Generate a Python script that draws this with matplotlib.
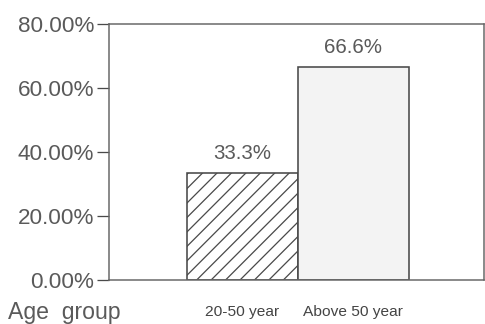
import matplotlib
matplotlib.use("Agg")
import matplotlib.pyplot as plt

categories = ["20-50 year", "Above 50 year"]
values = [33.3, 66.6]
value_labels = ["33.3%", "66.6%"]
yticks = [0, 20, 40, 60, 80]
ytick_labels = ["0.00%", "20.00%", "40.00%", "60.00%", "80.00%"]
axis_title = "Age  group"

DPI = 130
W, H = 485, 324
def pt(px):
    return px * 72.0 / DPI

plt.rcParams['font.family'] = ['Liberation Sans', 'DejaVu Sans']
plt.rcParams['hatch.color'] = '#444444'
plt.rcParams['hatch.linewidth'] = 0.7

fig = plt.figure(figsize=(W / DPI, H / DPI), dpi=DPI)
fig.patch.set_facecolor('white')
left, right, top, bottom = 109, 484, 24, 280
ax = fig.add_axes([left / W, 1 - bottom / H, (right - left) / W, (bottom - top) / H])

edge = '#4a4a4a'
txt = '#5a5a5a'
x = list(range(len(categories)))
bars = ax.bar(x, values, width=1.0, edgecolor=edge, linewidth=pt(1.6),
              color=['white', '#f3f3f3'])
bars[0].set_hatch('///')

for xi, v, lab in zip(x, values, value_labels):
    ax.text(xi, v + 3.2, lab, ha='center', va='bottom', fontsize=pt(20.5), color=txt)

ax.set_ylim(0, 80)
ax.set_xlim(-1.20, 2.18)
ax.set_yticks(yticks)
ax.set_yticklabels(ytick_labels, fontsize=pt(22.5), color=txt)
ax.set_xticks(x)
ax.set_xticklabels(categories, fontsize=pt(15.5), color='#444444')
ax.tick_params(axis='y', direction='out', length=pt(12), width=pt(1.3), color=edge, pad=pt(3))
ax.tick_params(axis='x', length=0, pad=pt(25))
for s in ax.spines.values():
    s.set_color('#666666')
    s.set_linewidth(pt(1.5))

fig.text(8 / W, 1 - 313 / H, axis_title, fontsize=pt(23), color=txt, ha='left', va='center')

fig.savefig('out.png', dpi=DPI, facecolor='white')
